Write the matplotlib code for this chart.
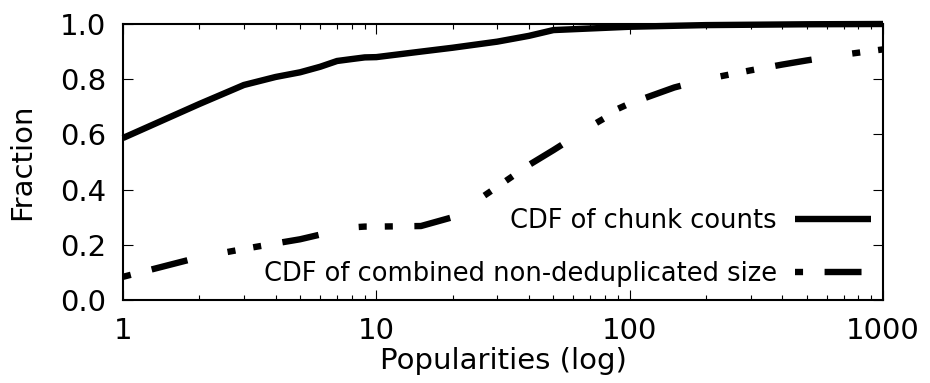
import numpy as np
import matplotlib
matplotlib.use("Agg")
import matplotlib.pyplot as plt

# CDF of chunk counts (solid)
chunk_x = [1, 2, 3, 4, 5, 6, 7, 8, 9, 10, 15, 20, 30, 40, 50, 100, 200, 500, 1000]
chunk_y = [0.587, 0.71, 0.779, 0.808, 0.825, 0.845, 0.866, 0.873, 0.879, 0.88,
           0.90, 0.914, 0.936, 0.957, 0.978, 0.99, 0.996, 0.999, 1.0]

# CDF of combined non-deduplicated size (dash-dot-dot)
size_x = [1, 2, 3, 4, 5, 6, 7, 8, 9, 10, 15, 20, 30, 40, 50, 60, 70, 80, 90,
          100, 150, 200, 300, 400, 500, 700, 1000]
size_y = [0.084, 0.155, 0.185, 0.205, 0.22, 0.237, 0.252, 0.263, 0.266, 0.266,
          0.268, 0.30, 0.41, 0.489, 0.543, 0.589, 0.629, 0.66, 0.693,
          0.712, 0.77, 0.80, 0.832, 0.853, 0.868, 0.889, 0.908]

labels = ["CDF of chunk counts", "CDF of combined non-deduplicated size"]
xticks = [1, 10, 100, 1000]
yticks = [0.0, 0.2, 0.4, 0.6, 0.8, 1.0]

plt.rcParams['font.family'] = ['DejaVu Sans']
plt.rcParams['lines.scale_dashes'] = False

fig = plt.figure(figsize=(9.3, 3.83), dpi=100)
ax = fig.add_axes([123/930, 83/383, 760/930, 276/383])

lw = 4.6
ax.plot(chunk_x, chunk_y, color='black', lw=lw, label=labels[0],
        solid_capstyle='butt', clip_on=False)
# dash 37px, gap 41, dot 8, gap 18, dot 8, gap 21.5 (in points)
ax.plot(size_x, size_y, color='black', lw=lw, label=labels[1],
        linestyle=(74.9, (26.6, 29.5, 5.8, 13.0, 5.8, 15.5)),
        dash_capstyle='butt', clip_on=False)

ax.set_xscale('log')
ax.set_xlim(1, 1000)
ax.set_ylim(0, 1.0)
ax.set_xticks(xticks)
ax.set_xticklabels([str(v) for v in xticks])
ax.set_yticks(yticks)
ax.set_yticklabels(["%.1f" % v for v in yticks])

for s in ax.spines.values():
    s.set_linewidth(1.5)
ax.tick_params(which='both', direction='in', top=True, right=True, width=0.8)
ax.tick_params(which='major', length=7.2, labelsize=21, pad=12)
ax.tick_params(which='minor', length=3.6)

ax.set_xlabel("Popularities (log)", fontsize=21, labelpad=2)
ax.set_ylabel("Fraction", fontsize=21, labelpad=17)

leg = ax.legend(loc='lower right', bbox_to_anchor=(871/930, (383-287)/383),
                bbox_transform=fig.transFigure, frameon=False, markerfirst=False,
                fontsize=18.5, handlelength=2.96, handletextpad=0.7,
                labelspacing=1.06, borderpad=0, borderaxespad=0)

fig.savefig("out.png", dpi=100)
